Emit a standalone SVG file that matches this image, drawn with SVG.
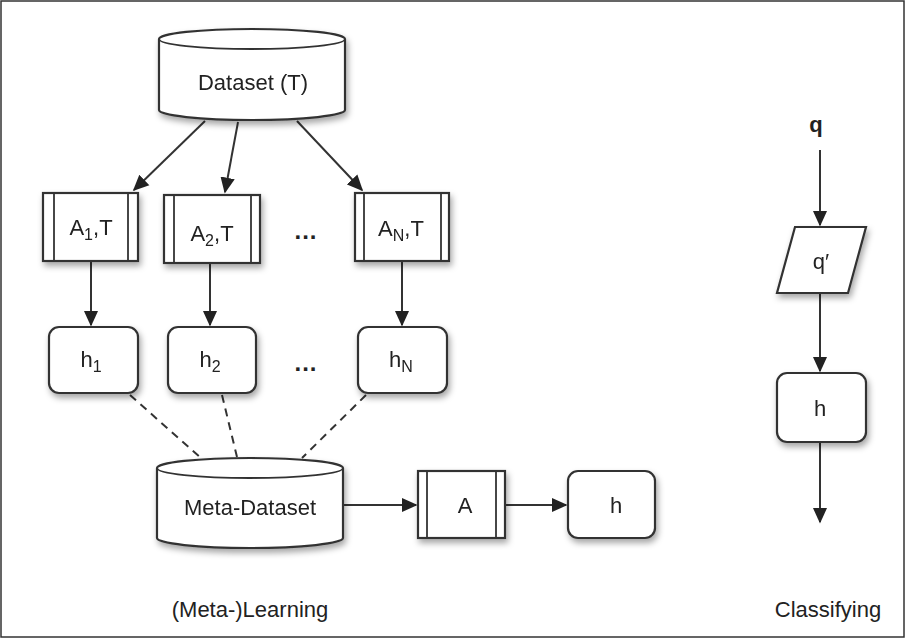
<svg xmlns="http://www.w3.org/2000/svg" width="906" height="639" viewBox="0 0 906 639">
<style>
text{font-family:"Liberation Sans",Arial,sans-serif;font-size:22px;fill:#222;text-anchor:middle}
.sub{font-size:16px}
.dots{font-weight:bold;font-size:24px;letter-spacing:1px}
.shape{fill:#fff;stroke:#333;stroke-width:2.2}
.inner{fill:none;stroke:#333;stroke-width:1.8}
.conn{stroke:#333;stroke-width:2;fill:none}
.dash{stroke:#333;stroke-width:2;fill:none;stroke-dasharray:8,6}
</style>
<defs>
<filter id="sh" x="-20%" y="-20%" width="150%" height="150%">
<feDropShadow dx="2" dy="4" stdDeviation="3" flood-color="#000" flood-opacity="0.35"/>
</filter>
<marker id="ah" viewBox="0 0 10 10" refX="9" refY="5" markerWidth="16" markerHeight="16" markerUnits="userSpaceOnUse" orient="auto">
<path d="M0,0.5 L10,5 L0,9.5 z" fill="#222"/>
</marker>
</defs>
<rect x="1" y="1" width="903" height="636" fill="#fff" stroke="#333" stroke-width="1.5"/>

<g id="connectors">
<line class="conn" x1="205" y1="121" x2="134" y2="190" marker-end="url(#ah)"/>
<line class="conn" x1="238" y1="122" x2="225" y2="192" marker-end="url(#ah)"/>
<line class="conn" x1="297" y1="121" x2="362" y2="190" marker-end="url(#ah)"/>
<line class="conn" x1="91" y1="262" x2="91" y2="325" marker-end="url(#ah)"/>
<line class="conn" x1="210" y1="264" x2="210" y2="325" marker-end="url(#ah)"/>
<line class="conn" x1="402" y1="262" x2="402" y2="325" marker-end="url(#ah)"/>
<line class="dash" x1="130" y1="395" x2="202" y2="459"/>
<line class="dash" x1="222" y1="395" x2="237" y2="457"/>
<line class="dash" x1="366" y1="395" x2="302" y2="458"/>
<line class="conn" x1="343" y1="505" x2="416" y2="505" marker-end="url(#ah)"/>
<line class="conn" x1="506" y1="505" x2="566" y2="505" marker-end="url(#ah)"/>
<line class="conn" x1="820" y1="150" x2="820" y2="225" marker-end="url(#ah)"/>
<line class="conn" x1="820" y1="294" x2="820" y2="371" marker-end="url(#ah)"/>
<line class="conn" x1="820" y1="443" x2="820" y2="522" marker-end="url(#ah)"/>
</g>

<g id="dataset" filter="url(#sh)">
<path class="shape" d="M159,39 L159,110 A93,10 0 0 0 345,110 L345,39 A93,10 0 0 0 159,39 Z"/>
<path class="inner" d="M159,39 A93,10 0 0 0 345,39"/>
<text x="253" y="90">Dataset (T)</text>
</g>

<g id="a1" filter="url(#sh)">
<rect class="shape" x="43" y="193" width="95" height="68"/>
<line class="inner" x1="54" y1="193" x2="54" y2="261"/>
<line class="inner" x1="128" y1="193" x2="128" y2="261"/>
<text x="91" y="235">A<tspan class="sub" dy="5">1</tspan><tspan dy="-5">,T</tspan></text>
</g>

<g id="a2" filter="url(#sh)">
<rect class="shape" x="164" y="195" width="96" height="68"/>
<line class="inner" x1="174" y1="195" x2="174" y2="263"/>
<line class="inner" x1="251" y1="195" x2="251" y2="263"/>
<text x="212" y="241">A<tspan class="sub" dy="5">2</tspan><tspan dy="-5">,T</tspan></text>
</g>

<g id="dots1"><text class="dots" x="306" y="239">...</text></g>

<g id="aN" filter="url(#sh)">
<rect class="shape" x="355" y="193" width="94" height="68"/>
<line class="inner" x1="364" y1="193" x2="364" y2="261"/>
<line class="inner" x1="441" y1="193" x2="441" y2="261"/>
<text x="401" y="236">A<tspan class="sub" dy="5">N</tspan><tspan dy="-5">,T</tspan></text>
</g>

<g id="h1" filter="url(#sh)">
<rect class="shape" x="49" y="327" width="89" height="66" rx="10"/>
<text x="91" y="367">h<tspan class="sub" dy="5">1</tspan></text>
</g>

<g id="h2" filter="url(#sh)">
<rect class="shape" x="168" y="327" width="88" height="66" rx="10"/>
<text x="210" y="367">h<tspan class="sub" dy="5">2</tspan></text>
</g>

<g id="dots2"><text class="dots" x="306" y="371">...</text></g>

<g id="hN" filter="url(#sh)">
<rect class="shape" x="358" y="327" width="89" height="66" rx="10"/>
<text x="401" y="367">h<tspan class="sub" dy="5">N</tspan></text>
</g>

<g id="metadataset" filter="url(#sh)">
<path class="shape" d="M157,468 L157,538 A93,10 0 0 0 343,538 L343,468 A93,10 0 0 0 157,468 Z"/>
<path class="inner" d="M157,468 A93,10 0 0 0 343,468"/>
<text x="250" y="515">Meta-Dataset</text>
</g>

<g id="a" filter="url(#sh)">
<rect class="shape" x="418" y="471" width="87" height="67"/>
<line class="inner" x1="427" y1="471" x2="427" y2="538"/>
<line class="inner" x1="496" y1="471" x2="496" y2="538"/>
<text x="465" y="513">A</text>
</g>

<g id="h" filter="url(#sh)">
<rect class="shape" x="568" y="471" width="87" height="67" rx="10"/>
<text x="616" y="513">h</text>
</g>

<g id="q"><text x="816" y="132" style="font-weight:bold">q</text></g>

<g id="qprime" filter="url(#sh)">
<path class="shape" d="M795,227 L866,227 L848,293 L777,293 Z"/>
<text x="821" y="269">q′</text>
</g>

<g id="hc" filter="url(#sh)">
<rect class="shape" x="777" y="373" width="89" height="69" rx="10"/>
<text x="820" y="416">h</text>
</g>

<g id="labels">
<text x="250" y="617">(Meta-)Learning</text>
<text x="828" y="617">Classifying</text>
</g>
</svg>
